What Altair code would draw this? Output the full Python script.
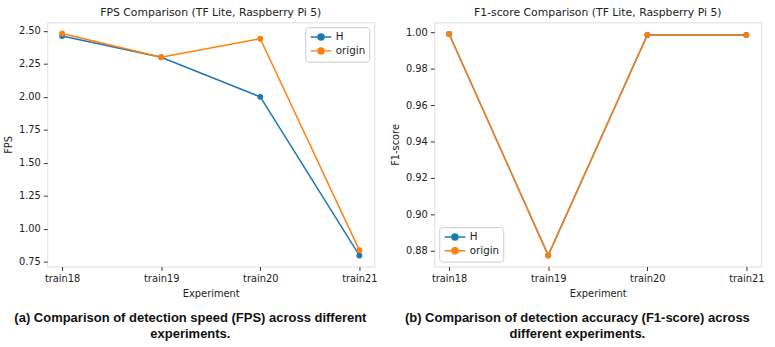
import altair as alt
import pandas as pd

experiments = ["train18", "train19", "train20", "train21"]
series = ["H", "origin"]
fps_H = [2.46, 2.30, 2.00, 0.80]
fps_origin = [2.48, 2.30, 2.44, 0.84]
f1_H = [0.999, 0.8775, 0.9985, 0.9985]
f1_origin = [0.999, 0.8775, 0.9985, 0.9985]
fps_ticks = [0.75, 1.00, 1.25, 1.50, 1.75, 2.00, 2.25, 2.50]
f1_ticks = [0.88, 0.90, 0.92, 0.94, 0.96, 0.98, 1.00]

colors = ["#1f77b4", "#ff7f0e"]

def make_df(h, o):
    rows = []
    for s, vals in zip(series, [h, o]):
        for e, v in zip(experiments, vals):
            rows.append({"Experiment": e, "Series": s, "Value": v})
    return pd.DataFrame(rows)

df_fps = make_df(fps_H, fps_origin)
df_f1 = make_df(f1_H, f1_origin)

FONT = "DejaVu Sans"
sym_path = "M-2,0L2,0M-0.58,0A0.58,0.58 0 1,0 0.58,0A0.58,0.58 0 1,0 -0.58,0Z"

def panel(df, ytitle, ticks, domain, title, legend_orient):
    legend = alt.Legend(
        title=None, orient=legend_orient, symbolType=sym_path, symbolSize=110,
        symbolStrokeWidth=1.5, labelFontSize=10.5, labelFont=FONT, labelColor="#222",
        strokeColor="#cccccc", fillColor="white", padding=4, cornerRadius=3,
        offset=5, rowPadding=0, labelOffset=9, symbolOffset=6,
    )
    x = alt.X("Experiment:N", sort=experiments,
              scale=alt.Scale(type="point", padding=0.15),
              axis=alt.Axis(title="Experiment", labelAngle=0, grid=False,
                            tickSize=4, tickColor="#333", domain=False,
                            labelFont=FONT, labelFontSize=10, labelColor="#222",
                            titleFont=FONT, titleFontSize=10, titleFontWeight="normal",
                            titleColor="#222", labelPadding=3, titlePadding=5))
    y = alt.Y("Value:Q",
              scale=alt.Scale(domain=domain, nice=False, zero=False),
              axis=alt.Axis(title=ytitle, values=ticks, format=".2f", grid=False,
                            tickSize=4, tickColor="#333", domain=False, labelOverlap=False,
                            labelFont=FONT, labelFontSize=10, labelColor="#222",
                            titleFont=FONT, titleFontSize=10, titleFontWeight="normal",
                            titleColor="#222", labelPadding=3, titlePadding=5))
    color = alt.Color("Series:N", scale=alt.Scale(domain=series, range=colors),
                      legend=legend)
    base = alt.Chart(df).encode(x=x, y=y, color=color)
    line = base.mark_line(strokeWidth=1.5)
    pts = base.mark_point(filled=True, size=36, opacity=1)
    ch = alt.layer(line, pts).properties(
        width=332, height=248,
        title=alt.TitleParams(title, font=FONT, fontSize=11, fontWeight="normal",
                              color="#222", offset=4),
    )
    return ch

left = panel(df_fps, "FPS", fps_ticks, [0.716, 2.564],
             "FPS Comparison (TF Lite, Raspberry Pi 5)", "top-right")
right = panel(df_f1, "F1-score", f1_ticks, [0.8714, 1.0054],
              "F1-score Comparison (TF Lite, Raspberry Pi 5)", "bottom-left")

def wrap(ch, lines):
    return alt.vconcat(ch).properties(
        title=alt.TitleParams(lines, orient="bottom", anchor="middle",
                              font="Liberation Sans", fontSize=13.2, fontWeight="bold",
                              color="#111", offset=14, lineHeight=16)
    ).resolve_scale(color="independent").resolve_legend(color="independent")

chart = alt.hconcat(
    wrap(left, ["(a) Comparison of detection speed (FPS) across different", "experiments."]),
    wrap(right, ["(b) Comparison of detection accuracy (F1-score) across", "different experiments."]),
    spacing=12,
).resolve_scale(color="independent").resolve_legend(color="independent").properties(
    padding={"left": 3, "top": 4, "right": 10, "bottom": 2}
).configure_view(stroke="#333", strokeWidth=1).configure(background="white")

chart.save("out.html", embed_options={"renderer": "svg", "actions": False})
